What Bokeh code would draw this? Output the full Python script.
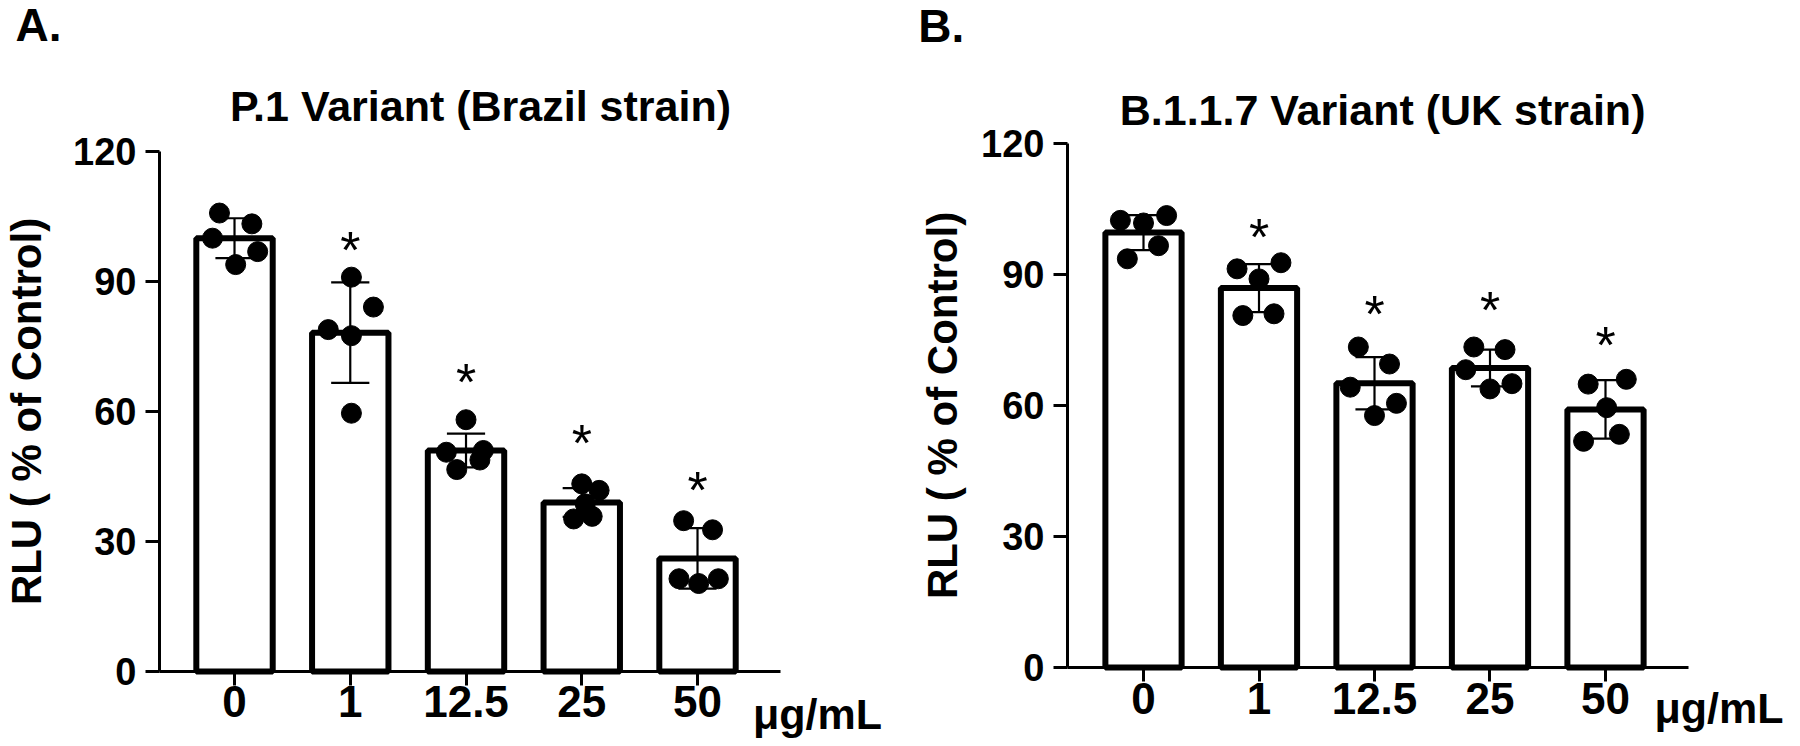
from bokeh.plotting import figure
from bokeh.models import Range1d, FixedTicker, Label
from bokeh.layouts import row
from bokeh.embed import file_html
from bokeh.resources import INLINE
from bokeh.core.properties import value

FONT = "Liberation Sans"

# ---------------- data ----------------
doses = ["0", "1", "12.5", "25", "50"]
unit_label = "\u03bcg/mL"
y_label = "RLU ( % of Control)"
y_ticks = [0, 30, 60, 90, 120]

# Panel A: P.1 Variant (Brazil strain)
title_A = "P.1 Variant (Brazil strain)"
mean_A = [100.0, 78.2, 51.0, 39.0, 26.1]
sd_A = [4.6, 11.6, 3.9, 3.3, 7.0]
pts_A = [
    [105.8, 103.3, 100.0, 96.9, 93.9],
    [91.0, 84.1, 78.9, 77.5, 59.6],
    [58.1, 50.6, 51.0, 48.8, 46.6],
    [43.3, 41.8, 38.7, 35.8, 35.2],
    [34.8, 32.7, 21.4, 20.3, 21.4],
]
jit_A = [
    [-0.13, 0.15, -0.19, 0.20, 0.01],
    [0.01, 0.20, -0.19, 0.01, 0.01],
    [0.00, -0.17, 0.15, 0.12, -0.08],
    [0.00, 0.15, 0.03, 0.09, -0.07],
    [-0.12, 0.13, -0.16, 0.01, 0.18],
]
star_A = [None, 98.3, 67.8, 53.7, 42.7]

# Panel B: B.1.1.7 Variant (UK strain)
title_B = "B.1.1.7 Variant (UK strain)"
mean_B = [99.6, 86.9, 65.1, 68.6, 59.1]
sd_B = [4.0, 5.5, 6.0, 4.2, 6.7]
pts_B = [
    [102.4, 101.8, 103.5, 96.6, 93.6],
    [91.3, 92.7, 89.0, 80.6, 81.0],
    [73.4, 69.5, 64.2, 60.5, 57.7],
    [73.4, 72.8, 68.2, 63.8, 65.0],
    [64.9, 66.0, 59.5, 53.4, 51.8],
]
jit_B = [
    [-0.20, 0.00, 0.20, 0.13, -0.14],
    [-0.19, 0.19, 0.00, -0.14, 0.13],
    [-0.14, 0.13, -0.21, 0.19, 0.00],
    [-0.14, 0.13, -0.21, 0.00, 0.19],
    [-0.15, 0.18, 0.01, 0.12, -0.19],
]
star_B = [None, 99.5, 81.8, 82.9, 74.8]


def make_panel(title, means, sds, pts, jit, stars, width, height, xr, yr, x_bounds,
               letter, letter_pos, title_pos, unit_pos, ylab_standoff):
    p = figure(width=width, height=height, output_backend="svg", toolbar_location=None,
               x_range=Range1d(*xr), y_range=Range1d(*yr),
               min_border_left=0, min_border_right=0,
               min_border_top=0, min_border_bottom=0,
               background_fill_color="white", border_fill_color="white")
    p.outline_line_color = None
    p.xgrid.visible = False
    p.ygrid.visible = False

    xs = list(range(len(doses)))
    # bars
    p.vbar(x=xs, top=means, bottom=0, width=0.66, fill_color="white",
           line_color="black", line_width=6)
    # error bars (mean +/- SD)
    lo = [m - s for m, s in zip(means, sds)]
    hi = [m + s for m, s in zip(means, sds)]
    p.segment(x0=xs, y0=lo, x1=xs, y1=hi, line_color="black", line_width=2.2)
    cap = 0.165
    p.segment(x0=[x - cap for x in xs], y0=hi, x1=[x + cap for x in xs], y1=hi,
              line_color="black", line_width=2.2)
    p.segment(x0=[x - cap for x in xs], y0=lo, x1=[x + cap for x in xs], y1=lo,
              line_color="black", line_width=2.2)
    # individual replicate points
    px, py = [], []
    for i, (vals, js) in enumerate(zip(pts, jit)):
        for v, j in zip(vals, js):
            px.append(i + j)
            py.append(v)
    p.scatter(x=px, y=py, size=20, fill_color="black", line_color="black")
    # significance stars
    sx = [i for i, s in enumerate(stars) if s is not None]
    sy = [s for s in stars if s is not None]
    p.text(x=sx, y=sy, text=["*"] * len(sx), text_font=value(FONT),
           text_font_size="52px", text_align="center", text_baseline="alphabetic",
           y_offset=4, text_color="black")

    # axes at fixed data locations (they take no border space)
    xax, yax = p.xaxis[0], p.yaxis[0]
    for ax in (xax, yax):
        ax.axis_line_width = 3
        ax.axis_line_color = "black"
        ax.major_tick_line_width = 3
        ax.major_tick_line_color = "black"
        ax.major_tick_out = 14
        ax.major_tick_in = 0
        ax.minor_tick_line_color = None
        ax.major_label_text_font = FONT
        ax.major_label_text_font_style = "bold"
        ax.major_label_text_color = "black"
    xax.fixed_location = 0
    xax.bounds = x_bounds
    yax.fixed_location = x_bounds[0]
    yax.bounds = (0, 120)
    xax.ticker = FixedTicker(ticks=xs)
    xax.major_label_overrides = {i: d for i, d in enumerate(doses)}
    xax.major_label_text_font_size = "44px"
    xax.major_label_standoff = 1
    yax.ticker = FixedTicker(ticks=y_ticks)
    yax.major_label_text_font_size = "38px"
    yax.major_label_standoff = 9
    yax.axis_label = y_label
    yax.axis_label_text_font = FONT
    yax.axis_label_text_font_style = "bold"
    yax.axis_label_text_font_size = "42px"
    yax.axis_label_text_color = "black"
    yax.axis_label_standoff = ylab_standoff

    # texts
    p.add_layout(Label(x=title_pos[0], y=title_pos[1], text=title, text_font=FONT,
                       text_font_size="43px", text_font_style="bold",
                       text_align="center", text_baseline="alphabetic", text_color="black"))
    p.add_layout(Label(x=letter_pos[0], y=letter_pos[1], text=letter, text_font=FONT,
                       text_font_size="46px", text_font_style="bold",
                       text_align="left", text_baseline="alphabetic", text_color="black"))
    p.add_layout(Label(x=unit_pos[0], y=unit_pos[1], text=unit_label, text_font=FONT,
                       text_font_size="43px", text_font_style="bold",
                       text_align="left", text_baseline="alphabetic", text_color="black"))
    return p


pA = make_panel(title_A, mean_A, sd_A, pts_A, jit_A, star_A, 900, 744,
                (-2.0217, 5.7537), (-16.85, 154.85), (-0.648, 4.717),
                "A.", (-1.892, 149.3), (2.125, 130.4), (4.479, -9.7), 20)
pB = make_panel(title_B, mean_B, sd_B, pts_B, jit_B, star_B, 898, 744,
                (-2.1039, 5.671), (-17.63, 152.75), (-0.658, 4.719),
                "B.", (-1.95, 147.0), (2.07, 127.6), (4.424, -9.2), 12)

layout = row(pA, pB)
open("out.html", "w").write(file_html(layout, INLINE))
